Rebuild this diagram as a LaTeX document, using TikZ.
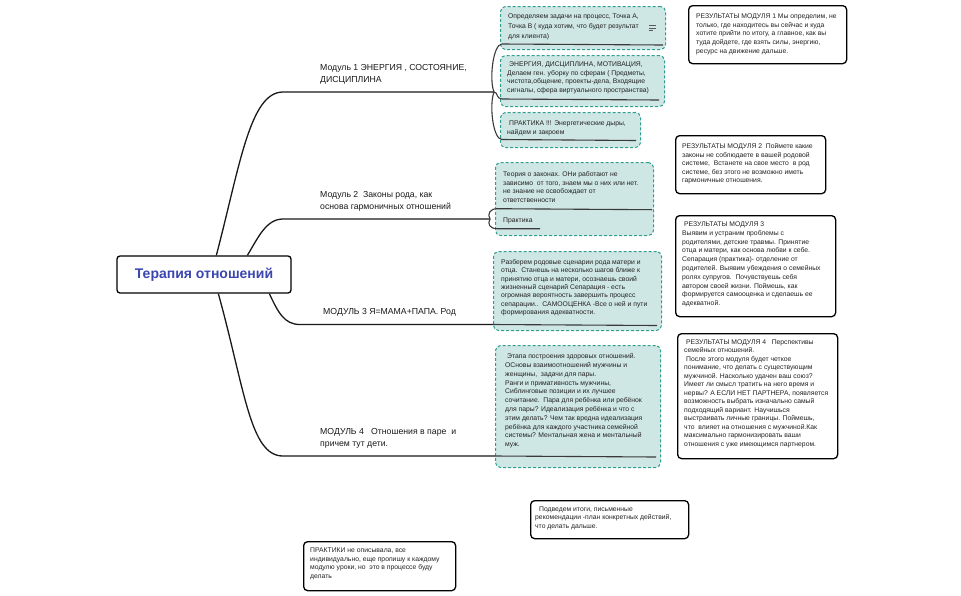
\documentclass[tikz,border=0pt]{standalone}
\usepackage{fontspec}
\setmainfont{Liberation Sans}
\usetikzlibrary{calc}
\definecolor{tealf}{HTML}{CFE7E4}
\definecolor{tealb}{HTML}{2E9E8E}
\definecolor{rootblue}{HTML}{3B46B0}
\definecolor{txtc}{HTML}{222222}
\definecolor{ulc}{HTML}{3A3A3A}
\tikzset{
 subbox/.style={draw=tealb, fill=tealf, dash pattern=on 3pt off 2pt, rounded corners=5pt, line width=1pt, inner sep=0pt, anchor=north west},
 resbox/.style={draw=black, fill=white, rounded corners=4pt, line width=1.3pt, inner sep=0pt, anchor=north west},
 txt/.style={anchor=north west, inner sep=0pt, align=left, text=txtc, font=\fontsize{6.8}{8.6}\selectfont},
 lbl/.style={anchor=north west, inner sep=0pt, align=left, text=black!90, font=\fontsize{8.7}{11.8}\selectfont},
 branch/.style={line width=1.3pt, draw=black!90},
 uline/.style={line width=1.1pt, draw=ulc},
}
\begin{document}
\begin{tikzpicture}[x=1pt,y=-1pt]
\useasboundingbox (0,0) rectangle (961,595);

% sub-topic boxes
\node[subbox, minimum width=165pt, minimum height=43pt] (s1a) at (500,6) {};
\node[subbox, minimum width=164pt, minimum height=51pt] (s1b) at (500,55) {};
\node[subbox, minimum width=140pt, minimum height=35pt] (s1c) at (500,112) {};
\node[subbox, minimum width=158pt, minimum height=73pt] (s2) at (495,162) {};
\node[subbox, minimum width=168pt, minimum height=79pt] (s3) at (493,251) {};
\node[subbox, minimum width=165pt, minimum height=122pt] (s4) at (495,345) {};

% result boxes
\node[resbox, minimum width=158pt, minimum height=58pt] (r1) at (688,5) {};
\node[resbox, minimum width=150pt, minimum height=58pt] (r2) at (675,135) {};
\node[resbox, minimum width=160pt, minimum height=101pt] (r3) at (675,215) {};
\node[resbox, minimum width=160pt, minimum height=125pt] (r4) at (677,333) {};
\node[resbox, minimum width=158pt, minimum height=38pt] (b1) at (530,500) {};
\node[resbox, minimum width=152pt, minimum height=49pt] (b2) at (303,541) {};

% root
\node[draw, rounded corners=3pt, line width=1.3pt, minimum width=174pt, minimum height=37pt,
      font=\fontsize{14}{16}\selectfont\bfseries, text=rootblue] (root) at (204,274.5) {Терапия отношений};

% branches
\draw[branch] ($(root.north west)+(100,0)$) .. controls (240,165) and (250,92) .. (283,92) -- (494,92) coordinate (j1);
\draw[branch] ($(root.north west)+(131,0)$) .. controls (258,238) and (266,219) .. (283,219) -- (490,219) coordinate (j2);
\draw[branch] ($(root.south west)+(153,0)$) .. controls (278,312) and (284,324.5) .. (300,324.5) -- (493,324.5) coordinate (j3);
\draw[branch] ($(root.south west)+(102,0)$) .. controls (245,390) and (250,456) .. (283,456) -- (495,456) coordinate (j4);

% sub connectors and underlines
\draw[uline] (j1) .. controls (489,80) and (493,44) .. (502,44) -- ($(s1a.south east)+(-3,-5)$);
\draw[uline] (j1) .. controls (498,92) and (496,99) .. (502,99) -- ($(s1b.south east)+(-6,-7)$);
\draw[uline] (j1) .. controls (489,105) and (493,139.5) .. (502,139.5) -- ($(s1c.south east)+(-5,-7.5)$);
\draw[uline] (j2) .. controls (487,214) and (490,208.7) .. (497,208.7) -- ($(s2.south east)+(-2,-26.3)$);
\draw[uline] (j2) .. controls (487,224) and (490,228.7) .. (497,228.7) -- (540,228.7);
\draw[uline] (j3) -- ($(s3.south east)+(-5,-5.5)$);
\draw[uline] (j4) -- ($(s4.south east)+(-5,-11)$);

% note icon
\draw[line width=0.6pt, draw=black!65] (649,25.5) -- (656,25.5) (649,28) -- (656,28) (649,30.5) -- (653,30.5);

% module labels
\node[lbl] (l1) at (320,64.5) {Модуль 1 ЭНЕРГИЯ , СОСТОЯНИЕ,\\ДИСЦИПЛИНА};
\node[lbl] (l2) at (320,191.5) {Модуль 2\ \ Законы рода, как\\основа гармоничных отношений};
\node[lbl] (l3) at (323,308.5) {МОДУЛЬ 3 Я=МАМА+ПАПА. Род};
\node[lbl] (l4) at (320,428.5) {МОДУЛЬ 4\ \ \ Отношения в паре\ \ и\\причем тут дети.};

% sub texts
\node[txt, font=\fontsize{6.8}{10}\selectfont] (t1a) at (508,13.5) {Определяем задачи на процесс, Точка А,\\Точка В ( куда хотим, что будет результат\\для клиента)};
\node[txt] (t1b) at (507,61.5) {\hspace*{2pt}ЭНЕРГИЯ, ДИСЦИПЛИНА, МОТИВАЦИЯ,\\Делаем ген. уборку по сферам ( Предметы,\\чистота,общение, проекты-дела, Входящие\\сигналы, сфера виртуального пространства)};
\node[txt] (t1c) at (507,120.5) {\hspace*{2pt}ПРАКТИКА !!! Энергетические дыры,\\найдем и закроем};
\node[txt] (t2) at (503,171.5) {Теория о законах. ОНи работают не\\зависимо\ \ от того, знаем мы о них или нет.\\не знание не освобождает от\\ответственности};
\node[txt] (t2b) at (503,217.5) {Практика};
\node[txt, font=\fontsize{6.8}{8.3}\selectfont] (t3) at (501,259.5) {Разберем родовые сценарии рода матери и\\отца.\ \ Станешь на несколько шагов ближе к\\принятию отца и матери, осознаешь своий\\жизненный сценарий Сепарация - есть\\огромная вероятность завершить процесс\\сепарации..\ \ САМООЦЕНКА -Все о ней и пути\\формирования адекватности.};
\node[txt, font=\fontsize{6.8}{8.8}\selectfont] (t4) at (505,353.5) {\hspace*{2pt}Этапа построения здоровых отношений.\\ОСновы взаимоотношений мужчины и\\женщины,\ \ задачи для пары.\\Ранги и примативность мужчины,\\Сиблинговые позиции и их лучшее\\сочитание.\ \ Пара для ребёнка или ребёнок\\для пары? Идеализация ребёнка и что с\\этим делать? Чем так вредна идеализация\\ребёнка для каждого участника семейной\\системы? Ментальная жена и ментальный\\муж.};

% result texts
\node[txt, font=\fontsize{6.8}{8.75}\selectfont] (tr1) at (696,13.5) {РЕЗУЛЬТАТЫ МОДУЛЯ 1 Мы определим, не\\только, где находитесь вы сейчас и куда\\хотите прийти по итогу, а главное, как вы\\туда дойдете, где взять силы, энергию,\\ресурс на движение дальше.};
\node[txt, font=\fontsize{6.8}{8.5}\selectfont] (tr2) at (682,143.5) {РЕЗУЛЬТАТЫ МОДУЛЯ 2\ \ Поймете какие\\законы не соблюдаете в вашей родовой\\системе,\ \ Встанете на свое место\ \ в род\\системе, без этого не возможно иметь\\гармоничные отношения.};
\node[txt, font=\fontsize{6.8}{8.8}\selectfont] (tr3) at (682,221.5) {\hspace*{2pt}РЕЗУЛЬТАТЫ МОДУЛЯ 3\\Выявим и устраним проблемы с\\родителями, детские травмы. Принятие\\отца и матери, как основа любви к себе.\\Сепарация (практика)- отделение от\\родителей. Выявим убеждения о семейных\\ролях супругов.\ \ Почувствуешь себя\\автором своей жизни. Поймешь, как\\формируется самооценка и сделаешь ее\\адекватной.};
\node[txt, font=\fontsize{6.8}{8.5}\selectfont] (tr4) at (684,339.5) {\hspace*{2pt}РЕЗУЛЬТАТЫ МОДУЛЯ 4\ \ \ Перспективы\\семейных отношений.\\\hspace*{2pt}После этого модуля будет четкое\\понимание, что делать с существующим\\мужчиной. Насколько удачен ваш союз?\\Имеет ли смысл тратить на него время и\\нервы? А ЕСЛИ НЕТ ПАРТНЕРА, появляется\\возможность выбрать изначально самый\\подходящий вариант. Научишься\\выстраивать личные границы. Поймешь,\\что\ \ влияет на отношения с мужчиной.Как\\максимально гармонизировать ваши\\отношения с уже имеющимся партнером.};
\node[txt, font=\fontsize{6.8}{8.5}\selectfont] (tb1) at (535,506.5) {\hspace*{4pt}Подведем итоги, письменные\\рекомендации -план конкретных действий,\\что делать дальше.};
\node[txt, font=\fontsize{6.8}{8.7}\selectfont] (tb2) at (310,547.5) {ПРАКТИКИ не описывала, все\\индивидуально, еще пропишу к каждому\\модулю уроки, но\ \ это в процессе буду\\делать};
\end{tikzpicture}
\end{document}
